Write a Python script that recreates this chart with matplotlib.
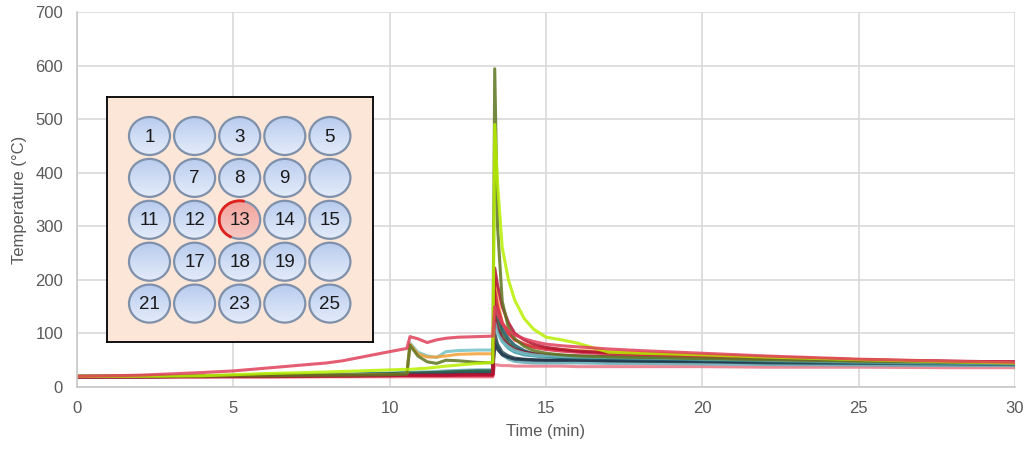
import numpy as np
import matplotlib.pyplot as plt
from matplotlib.patches import Ellipse, Arc

plt.rcParams['font.family'] = ['Liberation Sans', 'DejaVu Sans']

# sample times (min)
t = [0, 2, 4, 5, 6, 8, 8.5, 10, 10.55, 10.65, 10.9, 11.2, 11.5, 11.8, 12.2, 12.8,
     13.3, 13.36, 13.45, 13.6, 13.8, 14.0, 14.3, 14.6, 15.0, 15.5, 16.0, 17.0,
     18.0, 20.0, 22.0, 25.0, 28.0, 30.0]

# thermocouple temperatures (degC), one list per channel
ch_red = [20, 22, 27, 30, 35, 45, 49, 66, 72, 94, 90, 83, 88, 91, 93, 94,
          95, 150, 135, 118, 105, 97, 90, 85, 80, 77, 75, 71, 68, 63, 58, 52, 48, 46]
ch_olive = [20, 20, 20, 21, 21, 22, 22, 23, 24, 78, 58, 47, 44, 50, 49, 46,
            45, 594, 300, 160, 110, 90, 76, 68, 63, 60, 58, 56, 55, 53, 51, 48, 46, 45]
ch_lime = [20, 20, 21, 23, 25, 28, 29, 32, 33, 33, 34, 35, 37, 39, 41, 44,
           46, 490, 380, 260, 200, 162, 128, 108, 93, 88, 82, 65, 63, 60, 56, 51, 47, 45]
ch_cyan = [20, 20, 20, 21, 21, 22, 22, 23, 24, 82, 65, 58, 55, 66, 68, 69,
           69, 120, 100, 85, 75, 68, 63, 60, 58, 57, 56, 55, 54, 52, 50, 47, 45, 44]
ch_orange = [20, 20, 20, 21, 21, 22, 22, 23, 24, 80, 62, 56, 56, 58, 61, 62,
             62, 200, 160, 120, 100, 88, 80, 75, 72, 70, 68, 66, 64, 60, 56, 51, 47, 45]
ch_darkred = [19, 19, 20, 20, 20, 21, 21, 22, 22, 22, 22, 22, 22, 22, 23, 23,
              23, 222, 190, 150, 120, 100, 88, 80, 74, 70, 67, 64, 62, 60, 56, 51, 48, 47]
ch_red2 = [19, 19, 19, 20, 20, 20, 20, 21, 21, 21, 21, 21, 21, 21, 21, 21,
           21, 180, 150, 120, 100, 88, 80, 74, 70, 67, 65, 62, 60, 56, 53, 50, 48, 47]
ch_maroon = [19, 19, 20, 20, 20, 21, 21, 21, 22, 22, 22, 22, 22, 22, 22, 23,
             23, 130, 110, 90, 78, 70, 65, 62, 60, 59, 58, 57, 56, 54, 51, 48, 46, 45]
ch_darkteal = [19, 19, 20, 20, 21, 21, 22, 23, 23, 23, 24, 24, 24, 25, 25, 26,
               26, 170, 140, 110, 90, 78, 68, 62, 58, 55, 54, 53, 52, 51, 49, 47, 45, 44]
ch_navy = [19, 19, 20, 20, 20, 21, 21, 22, 22, 22, 23, 23, 23, 24, 24, 25,
           25, 80, 70, 60, 55, 52, 51, 50, 50, 50, 50, 49, 49, 48, 47, 46, 45, 44]
ch_teal = [20, 20, 21, 21, 22, 23, 23, 25, 26, 26, 26, 27, 27, 28, 29, 30,
           30, 140, 110, 85, 72, 65, 60, 58, 56, 55, 55, 54, 53, 51, 49, 46, 44, 43]
ch_slate = [20, 20, 21, 21, 22, 23, 23, 24, 25, 25, 25, 26, 26, 26, 27, 28,
            28, 100, 80, 65, 58, 54, 52, 51, 50, 50, 50, 49, 48, 47, 45, 44, 43, 42]
ch_grayteal = [20, 20, 21, 22, 22, 24, 24, 26, 27, 27, 28, 28, 29, 30, 31, 32,
               32, 90, 75, 60, 52, 48, 46, 45, 45, 45, 45, 44, 44, 43, 42, 41, 40, 40]
ch_green = [20, 20, 21, 21, 22, 23, 23, 25, 26, 26, 26, 27, 27, 28, 29, 30,
            30, 160, 130, 100, 82, 72, 66, 62, 59, 57, 56, 55, 54, 52, 50, 47, 45, 44]
ch_pink = [18, 18, 18, 18, 18, 19, 19, 19, 19, 19, 19, 19, 19, 19, 19, 19,
           19, 42, 41, 40, 40, 39, 39, 39, 39, 39, 38, 38, 38, 38, 37, 37, 36, 36]

# drawing order: first listed ends up underneath
channels = [
    (ch_pink, '#E87585'),
    (ch_grayteal, '#62AAB4'),
    (ch_slate, '#2B4A55'),
    (ch_navy, '#1F3448'),
    (ch_teal, '#3A95A5'),
    (ch_green, '#35603A'),
    (ch_darkteal, '#1E5A68'),
    (ch_maroon, '#8E1B30'),
    (ch_cyan, '#72C2C6'),
    (ch_orange, '#F5A035'),
    (ch_red2, '#D62845'),
    (ch_darkred, '#B0102F'),
    (ch_olive, '#5E7420'),
    (ch_lime, '#B8F000'),
    (ch_red, '#E0405A'),
]

fig = plt.figure(figsize=(10.29, 4.49), dpi=100)
ax = fig.add_axes([77 / 1029, 62 / 449, 938 / 1029, 375 / 449])

for vals, col in channels:
    ax.plot(t, vals, color=col, lw=2.2, alpha=0.85, solid_joinstyle='round')

ax.set_xlim(0, 30)
ax.set_ylim(0, 700)
ax.set_xticks(range(0, 31, 5))
ax.set_yticks(range(0, 701, 100))
ax.grid(True, color='#D9D9D9', lw=1.2)
ax.set_axisbelow(True)
for s in ['top', 'right']:
    ax.spines[s].set_visible(False)
for s in ['left', 'bottom']:
    ax.spines[s].set_color('#C8C8C8')
    ax.spines[s].set_linewidth(1.2)
ax.tick_params(length=0, labelsize=12, labelcolor='#595959', pad=10)
ax.set_xlabel('Time (min)', fontsize=12, color='#595959', labelpad=6)
ax.set_ylabel('Temperature (°C)', fontsize=12, color='#595959', labelpad=6)

# sensor layout inset
iax = fig.add_axes([107 / 1029, (449 - 342) / 449, 266 / 1029, 245 / 449])
iax.set_facecolor('#FBE6D8')
for s in iax.spines.values():
    s.set_color('black')
    s.set_linewidth(1.3)
iax.set_xticks([])
iax.set_yticks([])

labels = [['1', '', '3', '', '5'],
          ['', '7', '8', '9', ''],
          ['11', '12', '13', '14', '15'],
          ['', '17', '18', '19', ''],
          ['21', '', '23', '', '25']]

blue_grad = np.linspace(0, 1, 50).reshape(-1, 1)
w, h = 41, 38
for r, row in enumerate(labels):
    for c, lab in enumerate(row):
        cx = 42.5 + 45.1 * c
        cy = 245 - (39 + 41.9 * r)
        hot = lab == '13'
        cmap = plt.matplotlib.colors.LinearSegmentedColormap.from_list(
            'g', ['#F7C9C4', '#F2A39C'] if hot else ['#E4ECFA', '#B9CCEE'])
        e = Ellipse((cx, cy), w, h, fc='none', ec='#7F90AA', lw=1.6, zorder=3)
        iax.add_patch(e)
        im = iax.imshow(blue_grad, cmap=cmap, aspect='auto', origin='lower',
                        extent=[cx - w / 2, cx + w / 2, cy - h / 2, cy + h / 2], zorder=2)
        im.set_clip_path(e)
        if hot:
            iax.add_patch(Arc((cx, cy), w, h, theta1=75, theta2=245,
                              color='#E0201B', lw=2.0, zorder=4))
        if lab:
            iax.text(cx, cy - 1, lab, ha='center', va='center', fontsize=13.5,
                     color='#1A1A1A', zorder=5)

iax.set_xlim(0, 266)
iax.set_ylim(0, 245)

fig.savefig('out.png', dpi=100)
